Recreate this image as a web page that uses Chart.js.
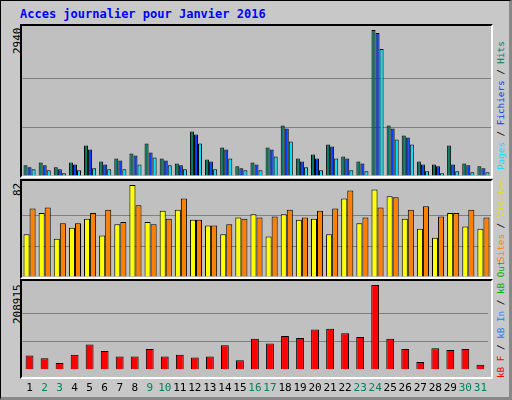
<!DOCTYPE html>
<html>
<head>
<meta charset="utf-8">
<script src="https://cdn.jsdelivr.net/npm/chart.js@4/dist/chart.umd.min.js"></script>
<style>
  body { margin: 0; background: #fff; }
  #frame { position: absolute; left: 0; top: 0; width: 508px; height: 396px; background: #c8c8c8;
           border: 1px solid #000; border-right: 3px solid #888; border-bottom: 3px solid #888; }
  .panel { position: absolute; left: 20px; width: 469px; background: #c0c0c0;
           border-top: 2px solid #000; border-left: 2px solid #000; border-right: 2px solid #fff; border-bottom: 2px solid #fff; }
  .title { position: absolute; left: 20px; top: 7px; font: bold 12px "DejaVu Sans Mono", monospace; color: #0000ff; }
  .vtext { position: absolute; font: 11px "DejaVu Sans Mono", monospace; white-space: nowrap;
           transform-origin: left top; transform: rotate(-90deg); }
  .leg { font-size: 9.3px; }
  canvas { position: absolute; }
</style>
</head>
<body>
<div id="frame"></div>
<div class="title">Acces journalier pour Janvier 2016</div>
<div class="panel" style="top:24px;height:150px"></div>
<div class="panel" style="top:179px;height:96px"></div>
<div class="panel" style="top:279px;height:96px"></div>

<div class="vtext" style="left:11px;top:54px">2940</div>
<div class="vtext" style="left:11px;top:196px">82</div>
<div class="vtext" style="left:11px;top:324px">208915</div>

<div class="vtext leg" style="left:495px;top:170px"><span style="color:#00e0ff">Pages</span> / <span style="color:#0040ff">Fichiers</span> / <span style="color:#007a60">Hits</span></div>
<div class="vtext leg" style="left:495px;top:262px"><span style="color:#ff8000">Sites</span> / <span style="color:#e0e000">Visites</span></div>
<div class="vtext leg" style="left:495px;top:378px"><span style="color:#ff0000">kB F</span> / <span style="color:#2080ff">kB In</span> / <span style="color:#00b000">kB Out</span></div>

<canvas id="c1" style="left:22px;top:26px;width:469px;height:150px"></canvas>
<canvas id="c2" style="left:22px;top:181px;width:469px;height:96px"></canvas>
<canvas id="c3" style="left:22px;top:281px;width:469px;height:118px"></canvas>

<script>
const days = ['1','2','3','4','5','6','7','8','9','10','11','12','13','14','15','16','17','18','19','20','21','22','23','24','25','26','27','28','29','30','31'];
const weekend = ['2','3','9','10','16','17','23','24','30','31'];

const hits = [214,274,174,274,615,294,354,454,655,354,254,895,334,574,194,274,574,1015,354,434,635,394,294,2940,1015,815,294,234,615,254,194];
const files = [174,214,134,234,534,234,314,414,474,314,214,835,294,534,154,234,534,955,294,354,595,354,254,2879,955,775,234,194,234,214,154];
const pages = [134,114,53,114,154,134,134,234,374,214,134,655,134,354,114,114,394,695,174,114,354,114,94,2558,735,635,94,53,94,73,73];

const visitors = [38,57,34,44,52,37,47,82,49,59,60,51,46,38,53,56,36,56,51,52,38,70,48,78,72,52,43,35,57,45,43];
const visits = [61,62,48,48,57,60,49,64,47,52,70,51,46,47,52,53,54,60,53,59,61,77,53,62,71,60,63,54,57,60,53];

const kbytes = [35065,28200,16770,37350,62500,46500,32780,32780,51070,32780,37350,30490,32780,60220,23630,76240,64800,83100,78520,99100,101400,89950,80800,208915,76240,51070,19060,53360,48790,51070,12200];

const maxHits = 2940, maxVisits = 82, maxKb = 208915;

function bar(label, data, color, bp) {
    return { label: label, data: data, backgroundColor: color, borderColor: '#000', borderWidth: 1,
             borderSkipped: 'bottom', barPercentage: bp, categoryPercentage: 0.8 };
}

function makeChart(id, datasets, max, showX) {
    return new Chart(document.getElementById(id), {
        type: 'bar',
        data: { labels: days, datasets: datasets },
        options: {
            responsive: false, animation: false, devicePixelRatio: 1,
            layout: { padding: { top: 4, left: 0, right: 0, bottom: 0 } },
            plugins: { legend: { display: false }, tooltip: { enabled: false } },
            scales: {
                x: {
                    display: showX,
                    grid: { display: false }, border: { display: false },
                    ticks: {
                        padding: 4, maxRotation: 0, autoSkip: false,
                        font: { family: 'DejaVu Sans Mono', size: 11 },
                        color: ctx => weekend.includes(days[ctx.index]) ? '#008060' : '#000'
                    }
                },
                y: {
                    min: 0, max: max, display: true,
                    ticks: { display: false, stepSize: max / 3 },
                    grid: { color: ctx => (ctx.index === 1 || ctx.index === 2) ? '#808080' : 'rgba(0,0,0,0)', lineWidth: 1, drawTicks: false },
                    border: { display: false }
                }
            }
        }
    });
}

function sizeCanvas(id, w, h) {
    const c = document.getElementById(id);
    c.width = w; c.height = h;
}
sizeCanvas('c1', 469, 150);
sizeCanvas('c2', 469, 96);
sizeCanvas('c3', 469, 118);

makeChart('c1', [
    bar('Hits', hits, '#007a60', 1.0),
    bar('Fichiers', files, '#0040ff', 1.0),
    bar('Pages', pages, '#00e0ff', 1.0)
], maxHits, false);

makeChart('c2', [
    bar('Visites', visitors, '#ffff00', 1.0),
    bar('Sites', visits, '#ff8000', 1.0)
], maxVisits, false);

makeChart('c3', [
    bar('kB', kbytes, '#ff0000', 0.65)
], maxKb, true);
</script>
</body>
</html>
